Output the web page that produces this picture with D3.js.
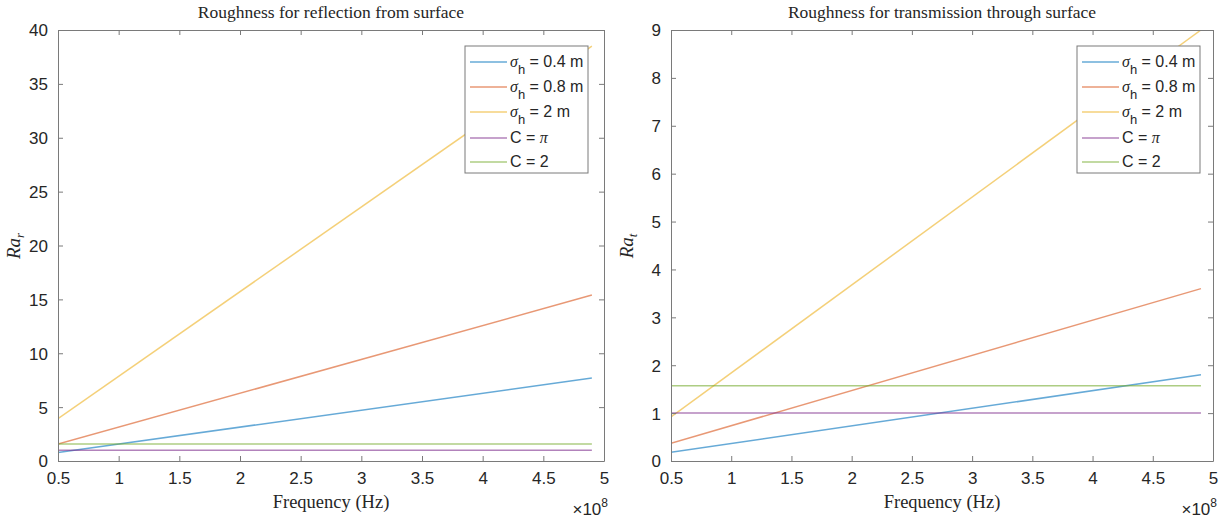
<!DOCTYPE html>
<html>
<head>
<meta charset="utf-8">
<script src="https://cdn.jsdelivr.net/npm/d3@7"></script>
<style>
  body { margin: 0; background: #fff; }
  svg { display: block; }
  .tick text { font-family: "Liberation Sans", Arial, sans-serif; font-size: 17px; fill: #262626; }
</style>
</head>
<body>
<svg id="chart" width="1228" height="519"></svg>
<script>
// frequency samples (Hz), lines run from 0.5e8 to 4.9e8
var freq = [0.5e8, 4.9e8];
var xTicks = [0.5, 1, 1.5, 2, 2.5, 3, 3.5, 4, 4.5, 5];

// reflection panel
var reflSigma04 = [0.79, 7.7];
var reflSigma08 = [1.57, 15.4];
var reflSigma2 = [3.93, 38.5];
var reflCpi = [1.0, 1.0];
var reflC2 = [1.57, 1.57];
var reflYTicks = [0, 5, 10, 15, 20, 25, 30, 35, 40];

// transmission panel
var transSigma04 = [0.18, 1.8];
var transSigma08 = [0.37, 3.6];
var transSigma2 = [0.92, 9.0];
var transCpi = [1.0, 1.0];
var transC2 = [1.57, 1.57];
var transYTicks = [0, 1, 2, 3, 4, 5, 6, 7, 8, 9];

var seriesNames = ["0.4 m", "0.8 m", "2 m", "pi", "2"];
var colors = ["#0072BD", "#D95319", "#EDB120", "#7E2F8E", "#77AC30"];

var svg = d3.select("#chart");

function drawPanel(opt) {
    var x = d3.scaleLinear().domain([0.5e8, 5e8]).range([opt.left, opt.right]);
    var y = d3.scaleLinear().domain([0, opt.ymax]).range([461, 30]);
    var g = svg.append("g");

    g.append("clipPath").attr("id", opt.id + "clip")
        .append("rect")
        .attr("x", opt.left).attr("y", 30)
        .attr("width", opt.right - opt.left).attr("height", 431);

    // lines
    var line = d3.line()
        .x(function(d, i) { return x(freq[i]); })
        .y(function(d) { return y(d); });
    opt.series.forEach(function(s, i) {
        g.append("path")
            .datum(s)
            .attr("d", line)
            .attr("fill", "none")
            .attr("stroke", colors[i])
            .attr("stroke-opacity", 0.6)
            .attr("stroke-width", 1.5)
            .attr("clip-path", "url(#" + opt.id + "clip)");
    });

    // axes, MATLAB style box with inward ticks
    var axisColor = "#7a7a7a";
    var bottom = g.append("g").attr("transform", "translate(0,461)")
        .call(d3.axisBottom(x).tickValues(xTicks.map(function(v) { return v * 1e8; }))
            .tickFormat(function(v) { return d3.format("")(+(v / 1e8).toFixed(1)); })
            .tickSizeInner(-5).tickSizeOuter(0).tickPadding(9));
    var top = g.append("g").attr("transform", "translate(0,30)")
        .call(d3.axisTop(x).tickValues(xTicks.map(function(v) { return v * 1e8; }))
            .tickFormat("").tickSizeInner(-5).tickSizeOuter(0));
    var leftAx = g.append("g").attr("transform", "translate(" + opt.left + ",0)")
        .call(d3.axisLeft(y).tickValues(opt.yTicks)
            .tickSizeInner(-5).tickSizeOuter(0).tickPadding(10));
    var rightAx = g.append("g").attr("transform", "translate(" + opt.right + ",0)")
        .call(d3.axisRight(y).tickValues(opt.yTicks)
            .tickFormat("").tickSizeInner(-5).tickSizeOuter(0));
    [bottom, top, leftAx, rightAx].forEach(function(a) {
        a.select(".domain").attr("stroke", axisColor);
        a.selectAll(".tick line").attr("stroke", axisColor);
    });
    bottom.selectAll(".tick text").attr("dy", "0.8em");
    leftAx.selectAll(".tick text").attr("dy", "0.35em");

    // title
    g.append("text")
        .attr("x", (opt.left + opt.right) / 2).attr("y", 18)
        .attr("text-anchor", "middle")
        .style("font-family", "'Liberation Serif', 'DejaVu Serif', serif")
        .style("font-size", "17.5px").attr("fill", "#262626")
        .text(opt.title);

    // x label
    g.append("text")
        .attr("x", (opt.left + opt.right) / 2).attr("y", 508)
        .attr("text-anchor", "middle")
        .style("font-family", "'Liberation Serif', 'DejaVu Serif', serif")
        .style("font-size", "18.5px").attr("fill", "#262626")
        .text("Frequency (Hz)");

    // exponent
    var ex = g.append("text")
        .attr("x", opt.right + 4).attr("y", 515)
        .attr("text-anchor", "end")
        .style("font-family", "'Liberation Sans', Arial, sans-serif")
        .style("font-size", "17px").attr("fill", "#262626");
    ex.append("tspan").text("\u00d710");
    ex.append("tspan").attr("dy", -8).style("font-size", "12px").text("8");

    // y label
    var yl = g.append("text")
        .attr("transform", "translate(" + (opt.left - 38) + ",246) rotate(-90)")
        .attr("text-anchor", "middle")
        .style("font-family", "'Liberation Serif', 'DejaVu Serif', serif")
        .style("font-style", "italic")
        .style("font-size", "19px").attr("fill", "#262626");
    yl.append("tspan").text("Ra");
    yl.append("tspan").attr("dy", 4).style("font-size", "13px").text(opt.sub);

    // legend
    var lx = opt.legendX, ly = 46;
    var lg = g.append("g");
    lg.append("rect")
        .attr("x", lx).attr("y", ly).attr("width", 123).attr("height", 127)
        .attr("fill", "#fff").attr("stroke", "#7a7a7a").attr("stroke-width", 1);
    var rowY = [62, 87, 112, 138, 162];
    seriesNames.forEach(function(name, i) {
        lg.append("line")
            .attr("x1", lx + 5).attr("x2", lx + 42)
            .attr("y1", rowY[i]).attr("y2", rowY[i])
            .attr("stroke", colors[i]).attr("stroke-opacity", 0.6).attr("stroke-width", 1.5);
        var t = lg.append("text")
            .attr("x", lx + 45).attr("y", rowY[i] + 5)
            .style("font-family", "'Liberation Sans', Arial, sans-serif")
            .style("font-size", "16px").attr("fill", "#262626");
        if (i < 3) {
            t.append("tspan").style("font-family", "'Liberation Serif', serif")
                .style("font-style", "italic").text("\u03c3");
            t.append("tspan").attr("dy", 7).style("font-size", "13px").text("h");
            t.append("tspan").attr("dy", -7).text(" = " + name);
        } else if (name === "pi") {
            t.append("tspan").text("C = ");
            t.append("tspan").style("font-family", "'Liberation Serif', serif")
                .style("font-style", "italic").text("\u03c0");
        } else {
            t.append("tspan").text("C = " + name);
        }
    });
}

drawPanel({
    id: "refl", left: 58, right: 604, ymax: 40, yTicks: reflYTicks,
    series: [reflSigma04, reflSigma08, reflSigma2, reflCpi, reflC2],
    title: "Roughness for reflection from surface", sub: "r", legendX: 465
});

drawPanel({
    id: "trans", left: 671, right: 1213, ymax: 9, yTicks: transYTicks,
    series: [transSigma04, transSigma08, transSigma2, transCpi, transC2],
    title: "Roughness for transmission through surface", sub: "t", legendX: 1077
});
</script>
</body>
</html>
